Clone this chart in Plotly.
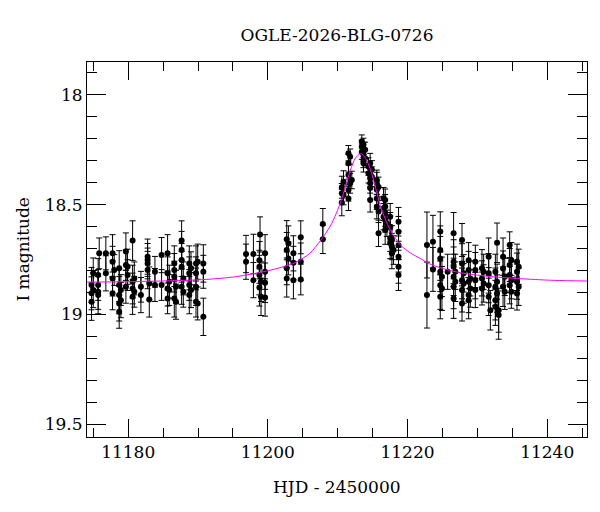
import plotly.graph_objects as go

title_text = "OGLE-2026-BLG-0726"
x_label = "HJD - 2450000"
y_label = "I magnitude"

# observed photometry (HJD - 2450000, I mag, error)
hjd = [
    11174.75, 11174.75, 11174.75, 11174.99, 11174.99,
    11175.70, 11175.70, 11175.70, 11175.70, 11175.85,
    11176.80, 11176.80,
    11177.76, 11177.76, 11177.76, 11177.76, 11178.00,
    11178.71, 11178.71, 11178.71, 11178.71, 11178.71, 11178.95, 11178.95,
    11179.67, 11179.67, 11179.67, 11179.91, 11179.91,
    11180.63, 11180.63, 11180.63, 11180.63, 11180.87, 11180.87,
    11181.82, 11181.82,
    11182.78, 11182.78, 11182.78, 11182.78, 11183.02, 11183.02,
    11183.83, 11183.83, 11184.78, 11184.78,
    11185.64, 11185.64, 11185.64, 11185.64, 11185.88, 11185.88,
    11186.60, 11186.60, 11186.60, 11186.60, 11186.84, 11186.84,
    11187.65, 11187.65, 11187.65, 11187.65, 11187.65, 11187.89, 11187.89,
    11188.75, 11188.75, 11188.75, 11188.75, 11188.99, 11188.99,
    11189.71, 11189.71, 11189.71, 11189.71, 11189.95, 11189.95,
    11190.76, 11190.76, 11190.76,
    11196.87, 11196.87, 11197.93, 11197.93,
    11198.79, 11198.79, 11198.79, 11198.79, 11198.88, 11199.02, 11199.02,
    11199.60, 11199.60, 11199.60, 11199.60,
    11202.70, 11202.70, 11202.70, 11202.70, 11202.94, 11202.94,
    11203.66, 11203.66, 11203.66, 11204.71, 11204.71, 11204.71,
    11207.87, 11207.87,
    11210.59, 11210.59, 11210.59, 11210.83, 11210.83,
    11211.54, 11211.54, 11211.54, 11211.54, 11211.54, 11211.78, 11211.78, 11212.02,
    11213.45, 11213.45, 11213.45,
    11213.69, 11213.69, 11213.69, 11213.69, 11213.69, 11213.93, 11213.93,
    11214.41, 11214.41,
    11214.65, 11214.65, 11214.65, 11214.65, 11214.65, 11214.89, 11214.89,
    11215.60, 11215.60, 11215.60, 11215.60, 11215.60, 11215.85, 11215.85, 11215.85,
    11216.56, 11216.56, 11216.56,
    11216.80, 11216.80, 11216.80, 11216.80, 11216.80, 11217.04,
    11217.52, 11217.52, 11217.52, 11217.52, 11217.76, 11217.76, 11217.76, 11218.00,
    11218.71, 11218.71, 11218.71, 11218.71, 11218.71, 11218.71,
    11222.78, 11222.78, 11223.64, 11223.64,
    11224.69, 11224.69, 11224.69, 11224.69, 11224.69, 11224.69, 11224.93, 11224.93,
    11225.74,
    11226.60, 11226.60, 11226.60, 11226.60, 11226.60, 11226.60, 11226.84, 11226.84,
    11227.80, 11227.80, 11227.80, 11227.80, 11227.80, 11228.04, 11228.04,
    11228.75, 11228.75, 11228.75, 11228.75, 11228.75, 11228.99, 11228.99,
    11229.71, 11229.71, 11229.71, 11229.71,
    11230.66, 11230.66, 11230.66, 11230.90, 11230.90,
    11231.62, 11231.62, 11231.62, 11231.62, 11231.86,
    11232.58, 11232.58, 11232.58, 11232.58, 11232.82, 11232.82, 11232.82,
    11233.05, 11233.05,
    11233.68, 11233.68, 11233.68, 11233.92, 11233.92,
    11234.63, 11234.63, 11234.63, 11234.63, 11234.87, 11234.87, 11234.87,
    11235.68, 11235.68, 11235.68, 11235.68, 11235.92, 11235.92,
]

imag = [
    18.866, 18.904, 18.942, 18.813, 18.889,
    18.821, 18.866, 18.897, 18.912, 18.722,
    18.722, 18.813,
    18.722, 18.760, 18.836, 18.904, 18.798,
    18.790, 18.866, 18.912, 18.950, 18.988, 18.889, 18.935,
    18.714, 18.775, 18.874, 18.783, 18.821,
    18.664, 18.851, 18.882, 18.920, 18.836, 18.897,
    18.874, 18.912,
    18.737, 18.752, 18.768, 18.798, 18.859, 18.932,
    18.806, 18.866, 18.730, 18.866,
    18.722, 18.813, 18.882, 18.927, 18.851, 18.889,
    18.768, 18.798, 18.828, 18.927, 18.874, 18.942,
    18.664, 18.707, 18.752, 18.783, 18.874, 18.836, 18.897,
    18.768, 18.813, 18.866, 18.912, 18.790, 18.889,
    18.768, 18.813, 18.874, 18.942, 18.760, 18.950,
    18.768, 18.806, 19.011,
    18.725, 18.760, 18.725, 18.844,
    18.753, 18.783, 18.821, 18.877, 18.636, 18.851, 18.920,
    18.722, 18.806, 18.856, 18.923,
    18.658, 18.707, 18.790, 18.836, 18.677, 18.745,
    18.722, 18.765, 18.844, 18.649, 18.760, 18.841,
    18.588, 18.658,
    18.421, 18.449, 18.491, 18.396, 18.456,
    18.266, 18.312, 18.365, 18.434, 18.472, 18.282, 18.403, 18.388,
    18.213, 18.236, 18.259,
    18.228, 18.251, 18.274, 18.297, 18.312, 18.251, 18.289,
    18.327, 18.357,
    18.312, 18.380, 18.403, 18.425, 18.479, 18.340, 18.373,
    18.388, 18.403, 18.433, 18.472, 18.510, 18.420, 18.532, 18.631,
    18.472, 18.517, 18.555,
    18.479, 18.509, 18.539, 18.570, 18.616, 18.585,
    18.555, 18.601, 18.653, 18.676, 18.661, 18.691, 18.722, 18.707,
    18.578, 18.624, 18.685, 18.737, 18.783, 18.821,
    18.684, 18.912, 18.669, 18.795,
    18.623, 18.707, 18.745, 18.806, 18.867, 18.920, 18.829, 18.882,
    18.806,
    18.631, 18.760, 18.783, 18.829, 18.874, 18.928, 18.806, 18.851,
    18.661, 18.768, 18.844, 18.889, 18.950, 18.813, 18.859,
    18.753, 18.798, 18.851, 18.912, 18.935, 18.836, 18.882,
    18.760, 18.798, 18.844, 18.889,
    18.790, 18.836, 18.882, 18.806, 18.859,
    18.737, 18.813, 18.867, 18.920, 18.981,
    18.806, 18.874, 18.935, 18.965, 18.674, 18.851, 18.905,
    18.981, 19.003,
    18.737, 18.791, 18.874, 18.829, 18.897,
    18.684, 18.775, 18.821, 18.867, 18.753, 18.844, 18.897,
    18.760, 18.806, 18.851, 18.905, 18.783, 18.874,
]

ierr = [
    0.080, 0.075, 0.085, 0.070, 0.080,
    0.075, 0.070, 0.080, 0.085, 0.070,
    0.075, 0.080,
    0.085, 0.070, 0.080, 0.075, 0.070,
    0.080, 0.075, 0.085, 0.080, 0.075, 0.070, 0.080,
    0.085, 0.070, 0.075, 0.080, 0.070,
    0.090, 0.075, 0.070, 0.080, 0.075, 0.070,
    0.070, 0.080,
    0.080, 0.075, 0.070, 0.085, 0.075, 0.080,
    0.070, 0.075, 0.080, 0.070,
    0.085, 0.075, 0.080, 0.070, 0.075, 0.070,
    0.080, 0.075, 0.070, 0.085, 0.075, 0.080,
    0.090, 0.085, 0.075, 0.070, 0.080, 0.075, 0.070,
    0.080, 0.075, 0.070, 0.085, 0.075, 0.080,
    0.080, 0.075, 0.085, 0.070, 0.080, 0.075,
    0.085, 0.075, 0.085,
    0.085, 0.080, 0.090, 0.080,
    0.085, 0.075, 0.090, 0.085, 0.080, 0.090, 0.085,
    0.085, 0.080, 0.090, 0.085,
    0.085, 0.080, 0.075, 0.085, 0.080, 0.075,
    0.080, 0.075, 0.085, 0.075, 0.085, 0.070,
    0.070, 0.065,
    0.050, 0.045, 0.060, 0.050, 0.045,
    0.035, 0.040, 0.045, 0.050, 0.055, 0.035, 0.045, 0.040,
    0.030, 0.030, 0.035,
    0.030, 0.035, 0.030, 0.035, 0.040, 0.035, 0.035,
    0.040, 0.045,
    0.045, 0.040, 0.045, 0.050, 0.055, 0.040, 0.045,
    0.045, 0.050, 0.045, 0.050, 0.055, 0.045, 0.050, 0.060,
    0.050, 0.055, 0.060,
    0.050, 0.055, 0.060, 0.055, 0.065, 0.060,
    0.060, 0.065, 0.060, 0.070, 0.065, 0.060, 0.070, 0.065,
    0.065, 0.070, 0.065, 0.070, 0.075, 0.070,
    0.150, 0.150, 0.120, 0.100,
    0.090, 0.110, 0.100, 0.090, 0.110, 0.100, 0.090, 0.100,
    0.080,
    0.095, 0.100, 0.090, 0.085, 0.100, 0.090, 0.080, 0.090,
    0.075, 0.090, 0.085, 0.100, 0.080, 0.085, 0.090,
    0.080, 0.085, 0.090, 0.080, 0.085, 0.080, 0.085,
    0.075, 0.080, 0.085, 0.080,
    0.085, 0.080, 0.075, 0.080, 0.085,
    0.085, 0.090, 0.080, 0.085, 0.090,
    0.080, 0.085, 0.090, 0.085, 0.090, 0.080, 0.085,
    0.100, 0.110,
    0.085, 0.080, 0.090, 0.085, 0.080,
    0.060, 0.075, 0.080, 0.085, 0.080, 0.085, 0.075,
    0.080, 0.085, 0.080, 0.075, 0.080, 0.085,
]

# microlensing model curve
model_hjd = [
    11174.1, 11180.0, 11186.0, 11191.0, 11195.0, 11199.0, 11202.0, 11204.0,
    11206.0, 11207.5, 11208.9, 11209.8, 11210.4, 11211.2, 11211.8, 11212.5,
    11213.3, 11214.0, 11214.7, 11215.4, 11216.1, 11216.8, 11217.5, 11218.3,
    11219.0, 11220.4, 11221.8, 11223.3, 11225.5, 11227.5, 11230.0, 11232.3,
    11235.0, 11237.6, 11241.0, 11245.7,
]
model_mag = [
    18.853, 18.851, 18.847, 18.841, 18.830, 18.808, 18.785, 18.763,
    18.722, 18.665, 18.600, 18.540, 18.490, 18.410, 18.345, 18.290,
    18.268, 18.290, 18.342, 18.420, 18.505, 18.565, 18.614, 18.655,
    18.685, 18.720, 18.745, 18.772, 18.795, 18.810, 18.821, 18.829,
    18.835, 18.840, 18.845, 18.848,
]

x_range = [11174.1, 11245.7]
y_range = [19.558, 17.851]
y_tickvals = [18, 18.5, 19, 19.5]
y_ticktext = ["18", "18.5", "19", "19.5"]
x_tickvals = [11180, 11200, 11220, 11240]

FONT = "DejaVu Serif"

fig = go.Figure()
fig.add_trace(go.Scatter(
    x=hjd, y=imag, mode="markers",
    marker=dict(color="black", size=6, line=dict(width=0)),
    error_y=dict(type="data", array=ierr, visible=True,
                 color="black", thickness=1, width=3),
    showlegend=False, hoverinfo="skip",
))
fig.add_trace(go.Scatter(
    x=model_hjd, y=model_mag, mode="lines",
    line=dict(color="#ff00ff", width=1, shape="spline", smoothing=0.8),
    showlegend=False, hoverinfo="skip",
))

axis_common = dict(
    showgrid=False, zeroline=False, showline=True, linecolor="black",
    linewidth=1, mirror="allticks", ticks="inside", tickcolor="black",
    tickwidth=1, tickfont=dict(family=FONT, size=17, color="black"),
)
fig.update_xaxes(
    range=x_range, tickmode="array", tickvals=x_tickvals,
    ticktext=[str(v) for v in x_tickvals], ticklen=18,
    minor=dict(ticks="inside", ticklen=9, tickcolor="black",
               tickmode="linear", tick0=11175, dtick=5, showgrid=False),
    **axis_common,
)
fig.update_yaxes(
    range=y_range, tickmode="array", tickvals=y_tickvals,
    ticktext=y_ticktext, ticklen=19,
    minor=dict(ticks="inside", ticklen=10, tickcolor="black",
               tickmode="linear", tick0=18, dtick=0.1, showgrid=False),
    **axis_common,
)

fig.update_layout(
    width=600, height=512,
    margin=dict(l=79, r=21, t=54, b=83),
    paper_bgcolor="white", plot_bgcolor="white",
    title=dict(text=title_text, x=0.5, xref="paper", xanchor="center",
               y=1 - 27 / 512, yref="container", yanchor="middle",
               font=dict(family=FONT, size=17, color="black")),
    annotations=[
        dict(text=x_label, xref="paper", yref="paper", x=0.5, y=-0.134,
             xanchor="center", yanchor="middle", showarrow=False,
             font=dict(family=FONT, size=17, color="black")),
        dict(text=y_label, xref="paper", yref="paper", x=-0.130, y=0.5,
             xanchor="center", yanchor="middle", showarrow=False, textangle=-90,
             font=dict(family=FONT, size=17, color="black")),
    ],
)

fig.write_html("out.html")
